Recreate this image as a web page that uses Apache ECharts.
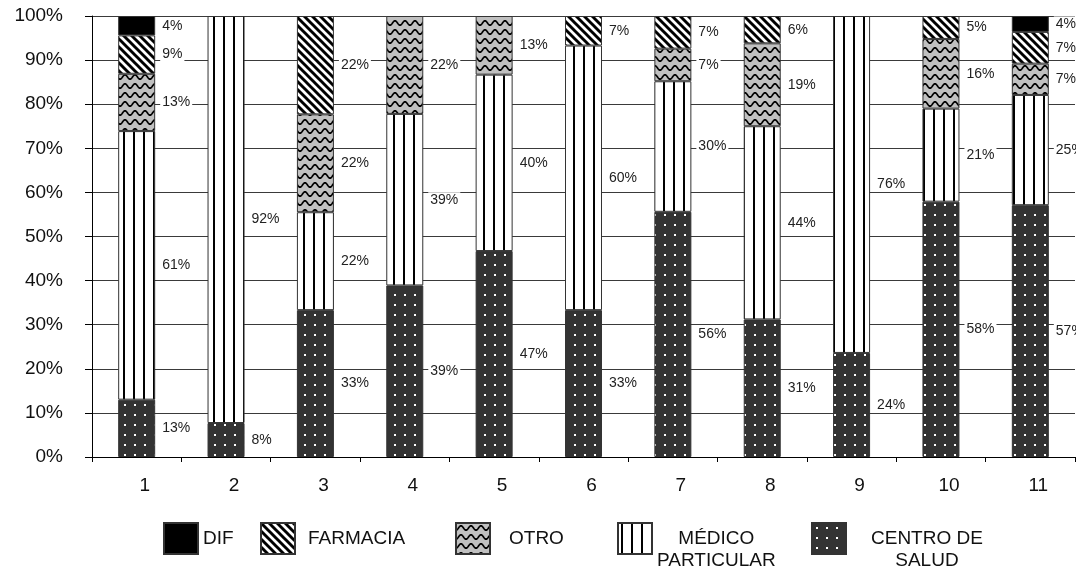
<!DOCTYPE html>
<html>
<head>
<meta charset="utf-8">
<script src="https://cdn.jsdelivr.net/npm/echarts@6/dist/echarts.min.js"></script>
<style>
  html, body { margin: 0; padding: 0; background: #fff; }
  #chart { width: 1076px; height: 569px; }
</style>
</head>
<body>
<div id="chart"></div>
<script>
// Categories (groups 1..11) and the share of each source of care, in percent.
const categories = ['1', '2', '3', '4', '5', '6', '7', '8', '9', '10', '11'];
const centroDeSalud    = [13.0, 7.7, 33.3, 38.9, 46.7, 33.3, 55.6, 31.2, 23.6, 57.9, 57.1];
const medicoParticular = [60.9, 92.3, 22.2, 38.9, 40.0, 60.0, 29.6, 43.8, 76.4, 21.1, 25.0];
const otro             = [13.0, null, 22.2, 22.2, 13.3, null, 7.4, 18.8, null, 15.8, 7.1];
const farmacia         = [8.7, null, 22.3, null, null, 6.7, 7.4, 6.2, null, 5.2, 7.2];
const dif              = [4.4, null, null, null, null, null, null, null, null, null, 3.6];
const yTicks = { min: 0, max: 100, interval: 10 };

const FONT = "'Liberation Sans', Arial, sans-serif";

// Tiled canvas fills for the hatched bars.
function tile(w, h, draw) {
  const c = document.createElement('canvas');
  c.width = w; c.height = h;
  const g = c.getContext('2d');
  draw(g, w, h);
  return { image: c, repeat: 'repeat' };
}

const fillDots = tile(10, 10, (g, w, h) => {
  g.fillStyle = '#333'; g.fillRect(0, 0, w, h);
  g.fillStyle = '#fff'; g.fillRect(4, 4, 2, 2);
});
const fillVertical = tile(10, 10, (g, w, h) => {
  g.fillStyle = '#fff'; g.fillRect(0, 0, w, h);
  g.fillStyle = '#000'; g.fillRect(3, 0, 2, h);
});
const fillWave = tile(10, 9, (g, w, h) => {
  g.fillStyle = '#c0c0c0'; g.fillRect(0, 0, w, h);
  g.strokeStyle = '#000'; g.lineWidth = 1.7;
  g.beginPath();
  for (let x = -1; x <= w + 1; x += 0.5) {
    const y = 5 + 2.2 * Math.cos(2 * Math.PI * x / w);
    if (x === -1) g.moveTo(x, y); else g.lineTo(x, y);
  }
  g.stroke();
});
const fillDiagonal = tile(8, 8, (g, w, h) => {
  g.fillStyle = '#fff'; g.fillRect(0, 0, w, h);
  g.strokeStyle = '#000'; g.lineWidth = 2.9;
  g.beginPath();
  for (let k = -1; k <= 1; k++) {
    g.moveTo(-2, -2 + k * h);
    g.lineTo(w + 2, h + 2 + k * h);
  }
  g.stroke();
});

function pct(p) {
  return p.value ? Math.round(p.value) + '%' : '';
}

function barSeries(name, data, color) {
  return {
    name: name,
    type: 'bar',
    stack: 'total',
    barWidth: 37,
    data: data,
    itemStyle: { color: color, borderColor: '#333', borderWidth: 1 },
    label: {
      show: true,
      position: 'right',
      distance: 5,
      formatter: pct,
      fontFamily: FONT,
      fontSize: 14,
      color: '#222',
      backgroundColor: '#fff',
      padding: [1, 2, 0, 2]
    },
    emphasis: { disabled: true }
  };
}

const legendBase = {
  orient: 'horizontal',
  icon: 'rect',
  itemWidth: 34,
  itemHeight: 31,
  padding: 0,
  selectedMode: false
};
function legendAt(name, left, top, padLeft, twoLine) {
  const txt = { fontFamily: FONT, fontSize: 19, color: '#111' };
  const l = Object.assign({}, legendBase, { data: [name], left: left, top: top });
  if (twoLine) {
    l.formatter = () => '{c|' + twoLine[0] + '}\n{c|' + twoLine[1] + '}';
    l.textStyle = Object.assign({}, txt, {
      padding: [22, 0, 0, padLeft],
      rich: { c: Object.assign({}, txt, { align: 'center', lineHeight: 22 }) }
    });
  } else {
    l.textStyle = Object.assign({}, txt, { padding: [0, 0, 0, padLeft] });
  }
  return l;
}

const chart = echarts.init(document.getElementById('chart'), null, { renderer: 'canvas' });
chart.setOption({
  animation: false,
  backgroundColor: '#fff',
  grid: { left: 92, right: 1, top: 16, bottom: 112, containLabel: false },
  legend: [
    legendAt('DIF', 163, 522, 0),
    legendAt('FARMACIA', 260, 522, 8),
    legendAt('OTRO', 455, 522, 14),
    legendAt('MÉDICO PARTICULAR', 617, 522, 0, ['MÉDICO', 'PARTICULAR']),
    legendAt('CENTRO DE SALUD', 811, 522, 20, ['CENTRO DE', 'SALUD'])
  ],
  xAxis: {
    type: 'category',
    data: categories,
    axisLine: { lineStyle: { color: '#000', width: 1 } },
    axisTick: { show: true, length: 5, lineStyle: { color: '#000' } },
    axisLabel: {
      fontFamily: FONT, fontSize: 19, color: '#111', margin: 19,
      padding: [0, 0, 0, 16]
    },
    splitLine: { show: false }
  },
  yAxis: {
    type: 'value',
    min: yTicks.min,
    max: yTicks.max,
    interval: yTicks.interval,
    axisLine: { show: true, lineStyle: { color: '#000', width: 1 } },
    axisTick: { show: true, length: 7, lineStyle: { color: '#000' } },
    axisLabel: {
      fontFamily: FONT, fontSize: 19, color: '#111', margin: 29,
      formatter: '{value}%'
    },
    splitLine: { show: true, lineStyle: { color: '#3a3a3a', width: 1 } }
  },
  series: [
    barSeries('CENTRO DE SALUD', centroDeSalud, fillDots),
    barSeries('MÉDICO PARTICULAR', medicoParticular, fillVertical),
    barSeries('OTRO', otro, fillWave),
    barSeries('FARMACIA', farmacia, fillDiagonal),
    barSeries('DIF', dif, '#000')
  ]
});
</script>
</body>
</html>
